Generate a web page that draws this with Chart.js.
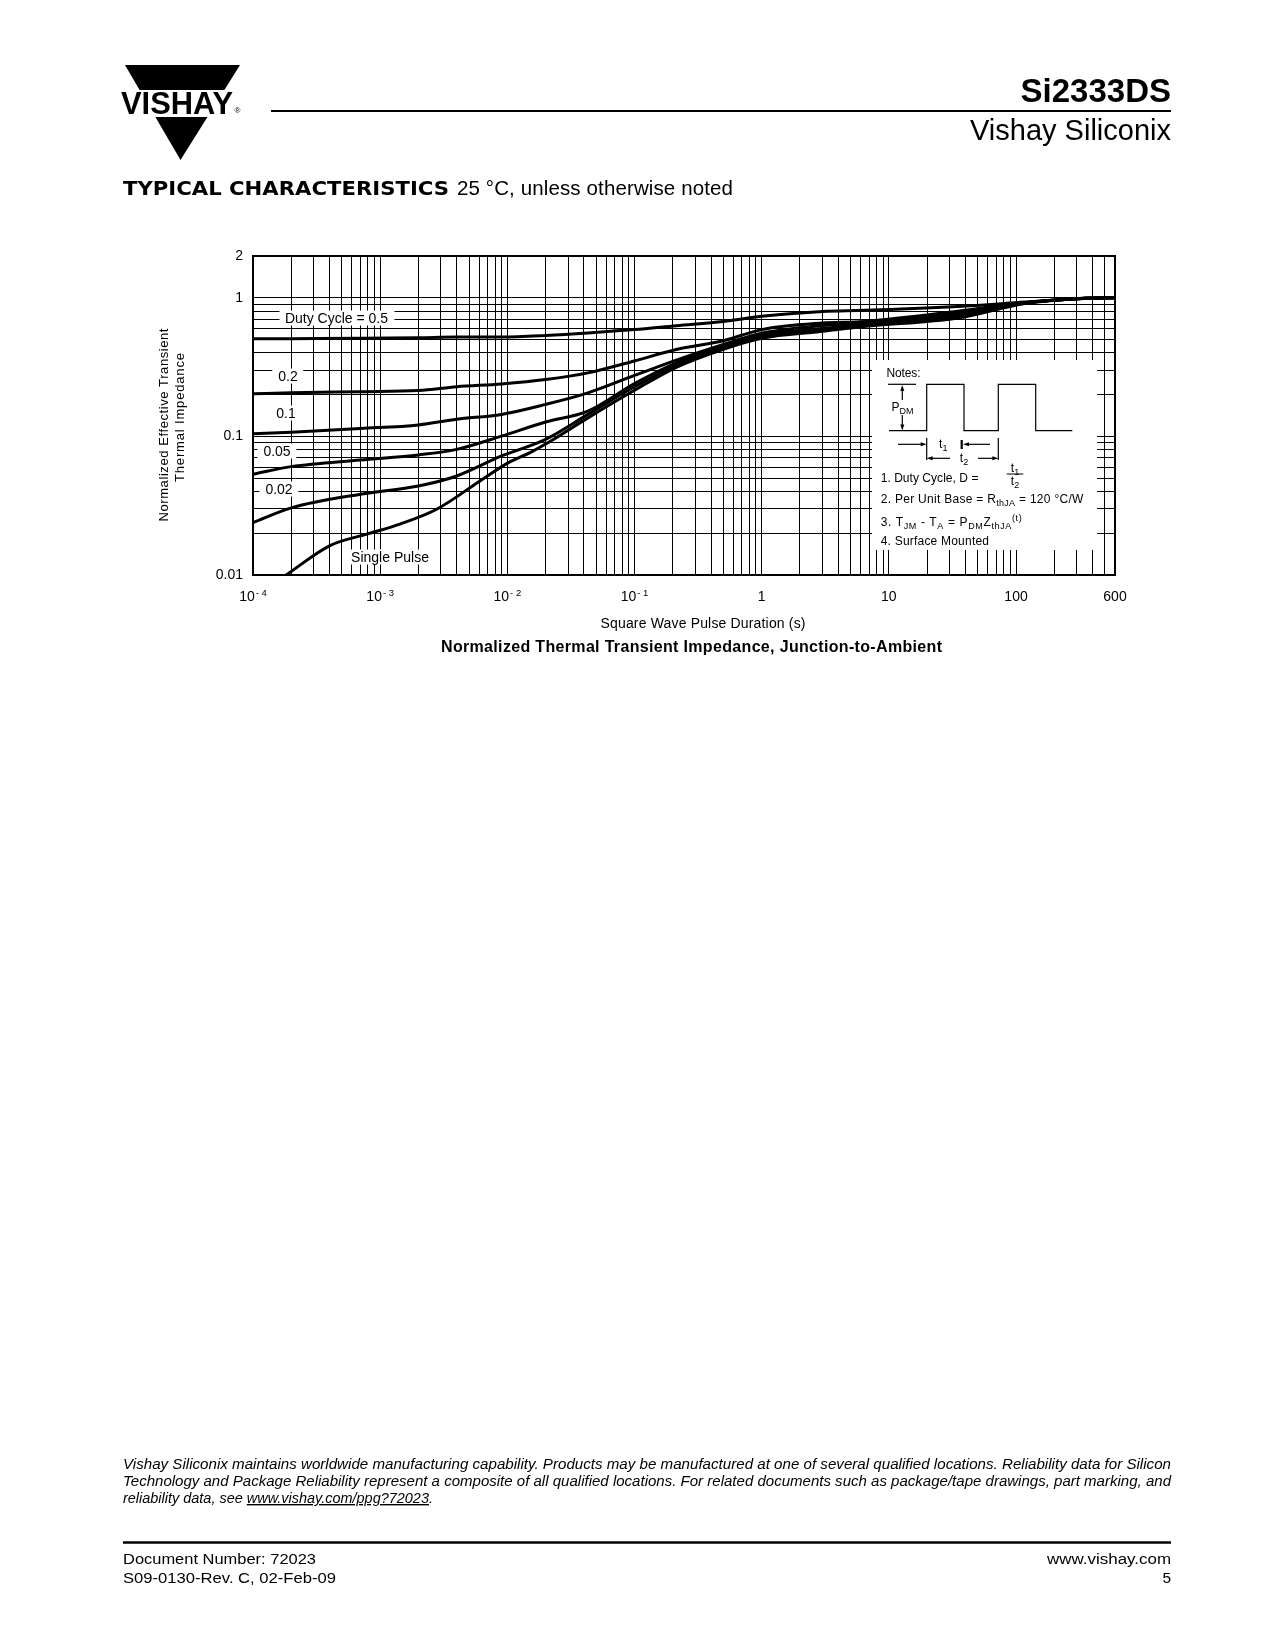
<!DOCTYPE html>
<html>
<head>
<meta charset="utf-8">
<title>Si2333DS - Normalized Thermal Transient Impedance</title>
<script src="https://cdn.jsdelivr.net/npm/chart.js@4.4.1/dist/chart.umd.min.js"></script>
<style>
  html, body { margin: 0; padding: 0; background: #fff; overflow: hidden; }
  body { width: 1275px; height: 1650px; position: relative; color: #000;
         font-family: "Liberation Sans", Arial, Helvetica, sans-serif; }
  #zthChart { position: absolute; left: 0; top: 0; }
  #page { position: absolute; left: 0; top: 0; }
  .curve-label { position: absolute; background: #fff; font-size: 14px; line-height: 13px;
                 padding: 1px 6px; transform: translate(-50%, -50%); white-space: nowrap; }
  #notes { position: absolute; left: 872px; top: 360px; width: 225px; height: 190px; background: #fff; }
  svg text { font-family: "Liberation Sans", Arial, Helvetica, sans-serif; fill: #000; }
</style>
</head>
<body>

<canvas id="zthChart" width="1275" height="700"></canvas>

<svg id="page" width="1275" height="1650" viewBox="0 0 1275 1650">
  <!-- logo -->
  <polygon points="125,65 240,65 180.5,160" fill="#000"/>
  <rect x="110" y="90" width="140" height="27" fill="#fff"/>
  <text x="121" y="113.5" font-size="31" font-weight="bold" textLength="112" lengthAdjust="spacingAndGlyphs">VISHAY</text>
  <text x="234.5" y="113" font-size="8">®</text>
  <line x1="271" y1="111" x2="1171" y2="111" stroke="#000" stroke-width="2"/>
  <text x="1171" y="102" font-size="33" font-weight="bold" text-anchor="end">Si2333DS</text>
  <text x="1171" y="139.5" font-size="29" text-anchor="end">Vishay Siliconix</text>
  <text x="123" y="195" font-size="20" font-weight="bold" style="font-family:'DejaVu Sans',sans-serif" textLength="326" lengthAdjust="spacingAndGlyphs">TYPICAL CHARACTERISTICS</text>
  <text x="457" y="195" font-size="20.5" textLength="276">25 °C, unless otherwise noted</text>

  <!-- axis titles -->
  <text transform="translate(167.5,425) rotate(-90)" font-size="13" text-anchor="middle" textLength="193">Normalized Effective Transient</text>
  <text transform="translate(184,417.5) rotate(-90)" font-size="13" text-anchor="middle" textLength="129">Thermal Impedance</text>
  <text x="703" y="628" font-size="14" text-anchor="middle" textLength="205">Square Wave Pulse Duration (s)</text>
  <text x="691.5" y="652" font-size="16" font-weight="bold" text-anchor="middle" textLength="501">Normalized Thermal Transient Impedance, Junction-to-Ambient</text>

  <!-- footer -->
  <text x="123" y="1469" font-size="13.8" font-style="italic" textLength="1048" lengthAdjust="spacingAndGlyphs">Vishay Siliconix maintains worldwide manufacturing capability. Products may be manufactured at one of several qualified locations. Reliability data for Silicon</text>
  <text x="123" y="1486" font-size="13.8" font-style="italic" textLength="1048" lengthAdjust="spacingAndGlyphs">Technology and Package Reliability represent a composite of all qualified locations. For related documents such as package/tape drawings, part marking, and</text>
  <text x="123" y="1503" font-size="13.8" font-style="italic" textLength="310" lengthAdjust="spacingAndGlyphs">reliability data, see <tspan text-decoration="underline">www.vishay.com/ppg?72023</tspan>.</text>
  <line x1="123" y1="1542.5" x2="1171" y2="1542.5" stroke="#000" stroke-width="2.5"/>
  <text x="123" y="1564" font-size="15.5" textLength="193" lengthAdjust="spacingAndGlyphs">Document Number: 72023</text>
  <text x="123" y="1583" font-size="15.5" textLength="213" lengthAdjust="spacingAndGlyphs">S09-0130-Rev. C, 02-Feb-09</text>
  <text x="1171" y="1564" font-size="15.5" text-anchor="end" textLength="124" lengthAdjust="spacingAndGlyphs">www.vishay.com</text>
  <text x="1171" y="1583" font-size="15.5" text-anchor="end">5</text>
</svg>

<!-- curve labels -->
<div class="curve-label" style="left:336.5px; top:317.5px;">Duty Cycle = 0.5</div>
<div class="curve-label" style="left:288px; top:376px;">0.2</div>
<div class="curve-label" style="left:286px; top:413px;">0.1</div>
<div class="curve-label" style="left:277px; top:451px;">0.05</div>
<div class="curve-label" style="left:279px; top:489px;">0.02</div>
<div class="curve-label" style="left:390px; top:557px;">Single Pulse</div>

<!-- notes box -->
<div id="notes">
  <svg width="225" height="190" viewBox="0 0 225 190">
    <text x="14.5" y="17.3" font-size="12" textLength="34">Notes:</text>
    <polyline points="17,70.7 54.7,70.7 54.7,24.3 92,24.3 92,70.7 126.3,70.7 126.3,24.3 163.7,24.3 163.7,70.7 200.3,70.7"
              fill="none" stroke="#000" stroke-width="1.2"/>
    <line x1="16" y1="24.3" x2="44" y2="24.3" stroke="#000" stroke-width="1.2"/>
    <line x1="30.3" y1="40" x2="30.3" y2="29" stroke="#000" stroke-width="1.2"/>
    <polygon points="30.3,25 28.3,31 32.3,31" fill="#000"/>
    <line x1="30.3" y1="55" x2="30.3" y2="66" stroke="#000" stroke-width="1.2"/>
    <polygon points="30.3,70.5 28.3,64.5 32.3,64.5" fill="#000"/>
    <text x="19.5" y="50.7" font-size="12">P<tspan font-size="9" dy="3">DM</tspan></text>

    <line x1="54.7" y1="78" x2="54.7" y2="100" stroke="#000" stroke-width="1.2"/>
    <line x1="126.3" y1="78" x2="126.3" y2="100" stroke="#000" stroke-width="1.2"/>
    <line x1="26" y1="84.3" x2="50" y2="84.3" stroke="#000" stroke-width="1.2"/>
    <polygon points="54.7,84.3 48.7,82.3 48.7,86.3" fill="#000"/>
    <text x="71.3" y="88.3" font-size="12" text-anchor="middle">t<tspan font-size="9" dy="3">1</tspan></text>
    <line x1="89.7" y1="80" x2="89.7" y2="89" stroke="#000" stroke-width="2.2"/>
    <line x1="95" y1="84.3" x2="118" y2="84.3" stroke="#000" stroke-width="1.2"/>
    <polygon points="91,84.3 97,82.3 97,86.3" fill="#000"/>

    <polygon points="54.7,98.3 60.7,96.3 60.7,100.3" fill="#000"/>
    <line x1="60" y1="98.3" x2="78" y2="98.3" stroke="#000" stroke-width="1.2"/>
    <text x="92" y="101.7" font-size="12" text-anchor="middle">t<tspan font-size="9" dy="3">2</tspan></text>
    <line x1="106" y1="98.3" x2="121" y2="98.3" stroke="#000" stroke-width="1.2"/>
    <polygon points="126.3,98.3 120.3,96.3 120.3,100.3" fill="#000"/>

    <text x="8.7" y="121.7" font-size="12" textLength="97.7">1. Duty Cycle, D =</text>
    <text x="143" y="111.7" font-size="12" text-anchor="middle">t<tspan font-size="9" dy="3">1</tspan></text>
    <line x1="134.7" y1="114" x2="151.3" y2="114" stroke="#000" stroke-width="1"/>
    <text x="143" y="125" font-size="12" text-anchor="middle">t<tspan font-size="9" dy="3">2</tspan></text>
    <text x="8.7" y="143.3" font-size="12" textLength="202.7">2. Per Unit Base = R<tspan font-size="9" dy="3">thJA</tspan><tspan dy="-3"> = 120 °C/W</tspan></text>
    <text x="8.7" y="165.7" font-size="12" textLength="141">3. T<tspan font-size="9" dy="3">JM</tspan><tspan dy="-3"> - T</tspan><tspan font-size="9" dy="3">A</tspan><tspan dy="-3"> = P</tspan><tspan font-size="9" dy="3">DM</tspan><tspan dy="-3">Z</tspan><tspan font-size="9" dy="3">thJA</tspan><tspan font-size="9" dy="-8">(t)</tspan></text>
    <text x="8.7" y="185" font-size="12" textLength="108.3">4. Surface Mounted</text>
  </svg>
</div>

<script>
// Pulse durations (s) shared by the duty-cycle curves
const pulseTime = [1e-4, 2e-4, 7e-4, 2e-3, 4e-3, 9e-3, 0.02, 0.043, 0.1, 0.213, 0.5, 1, 3, 6.4, 35, 118, 350, 600];

// Normalized Zth for each duty cycle
const zthD50 = [0.505, 0.507, 0.51, 0.515, 0.52, 0.521, 0.535, 0.557, 0.589, 0.629, 0.675, 0.734, 0.797, 0.811, 0.866, 0.93, 0.99, 1.0];
const zthD20 = [0.203, 0.206, 0.21, 0.214, 0.228, 0.239, 0.257, 0.287, 0.35, 0.423, 0.49, 0.589, 0.657, 0.675, 0.80, 0.92, 0.99, 1.0];
const zthD10 = [0.1045, 0.107, 0.114, 0.121, 0.133, 0.144, 0.17, 0.206, 0.275, 0.355, 0.46, 0.555, 0.63, 0.66, 0.78, 0.92, 0.99, 1.0];
const zthD05 = [0.0533, 0.0605, 0.0676, 0.0735, 0.0806, 0.1005, 0.127, 0.152, 0.24, 0.339, 0.445, 0.54, 0.60, 0.645, 0.75, 0.915, 0.99, 1.0];
const zthD02 = [0.0239, 0.0305, 0.0383, 0.0439, 0.0518, 0.0722, 0.095, 0.144, 0.228, 0.324, 0.435, 0.525, 0.585, 0.63, 0.73, 0.915, 0.99, 1.0];

// Single pulse curve
const singleTime = [1.82e-4, 4.03e-4, 7.83e-4, 1.43e-3, 2.78e-3, 6.1e-3, 0.0102, 0.0151, 0.02, 0.043, 0.1, 0.213, 0.5, 1, 3, 6.4, 35, 118, 350, 600];
const zthSingle = [0.01, 0.0163, 0.0197, 0.0233, 0.0298, 0.0477, 0.0646, 0.0764, 0.088, 0.136, 0.215, 0.315, 0.425, 0.51, 0.572, 0.62, 0.714, 0.91, 0.99, 1.0];

// Axis ticks
const xMajor = [1e-4, 1e-3, 1e-2, 1e-1, 1, 10, 100, 600];
const xTickBase = ['10', '10', '10', '10', '1', '10', '100', '600'];
const xTickExp = ['- 4', '- 3', '- 2', '- 1', '', '', '', ''];
const yMajor = [0.01, 0.1, 1, 2];
const yTickLabels = ['0.01', '0.1', '1', '2'];

const FONT = '"Liberation Sans", Arial, Helvetica, sans-serif';

// 1..9 x 10^n grid positions between min and max
function logTicks(min, max) {
    const out = [];
    for (let e = Math.floor(Math.log10(min)); e <= Math.ceil(Math.log10(max)); e++) {
        for (let m = 1; m <= 9; m++) {
            const v = m * Math.pow(10, e);
            if (v >= min * 0.999 && v <= max * 1.001) out.push(v);
        }
    }
    if (!out.some(v => Math.abs(v - max) / max < 1e-6)) out.push(max);
    return out;
}

function toPoints(xs, ys) {
    return xs.map((x, i) => ({ x: x, y: ys[i] }));
}

function curve(label, xs, ys) {
    return {
        label: label,
        data: toPoints(xs, ys),
        borderColor: '#000',
        borderWidth: 3,
        pointRadius: 0,
        fill: false,
        cubicInterpolationMode: 'monotone',
        borderCapStyle: 'round'
    };
}

// frame round the plot and x tick labels with raised exponents
const framePlugin = {
    id: 'frame',
    beforeDatasetsDraw(chart) {
        const { ctx, chartArea: a } = chart;
        ctx.save();
        ctx.strokeStyle = '#000';
        ctx.lineWidth = 2;
        ctx.strokeRect(a.left, a.top, a.right - a.left, a.bottom - a.top);
        ctx.restore();
    },
    afterDraw(chart) {
        const { ctx, chartArea: a } = chart;
        const xs = chart.scales.x;
        ctx.save();
        ctx.fillStyle = '#000';
        ctx.textAlign = 'left';
        ctx.textBaseline = 'alphabetic';
        xMajor.forEach((v, i) => {
            const px = xs.getPixelForValue(v);
            ctx.font = '14px ' + FONT;
            const wb = ctx.measureText(xTickBase[i]).width;
            ctx.font = '9.5px ' + FONT;
            const we = xTickExp[i] ? ctx.measureText(xTickExp[i]).width + 1 : 0;
            const x0 = px - (wb + we) / 2;
            ctx.font = '14px ' + FONT;
            ctx.fillText(xTickBase[i], x0, a.bottom + 25.5);
            if (xTickExp[i]) {
                ctx.font = '9.5px ' + FONT;
                ctx.fillText(xTickExp[i], x0 + wb + 1, a.bottom + 20.5);
            }
        });
        ctx.restore();
    }
};

const ctx = document.getElementById('zthChart').getContext('2d');
new Chart(ctx, {
    type: 'line',
    data: {
        datasets: [
            curve('Duty Cycle = 0.5', pulseTime, zthD50),
            curve('0.2', pulseTime, zthD20),
            curve('0.1', pulseTime, zthD10),
            curve('0.05', pulseTime, zthD05),
            curve('0.02', pulseTime, zthD02),
            curve('Single Pulse', singleTime, zthSingle)
        ]
    },
    options: {
        responsive: false,
        animation: false,
        layout: { padding: { left: 0, top: 256, right: 160, bottom: 0 } },
        plugins: {
            legend: { display: false },
            tooltip: { enabled: false }
        },
        scales: {
            x: {
                type: 'logarithmic',
                min: 1e-4,
                max: 600,
                afterBuildTicks: s => { s.ticks = logTicks(1e-4, 600).map(v => ({ value: v })); },
                afterFit: s => { s.height = 125; },
                grid: { color: '#000', lineWidth: 1, drawTicks: false },
                border: { display: false },
                ticks: { display: false }
            },
            y: {
                type: 'logarithmic',
                min: 0.01,
                max: 2,
                afterBuildTicks: s => { s.ticks = logTicks(0.01, 2).map(v => ({ value: v })); },
                afterFit: s => { s.width = 253; },
                grid: { color: '#000', lineWidth: 1, drawTicks: false },
                border: { display: false },
                ticks: {
                    autoSkip: false,
                    padding: 10,
                    color: '#000',
                    font: { family: FONT, size: 14 },
                    callback: function(value) {
                        const i = yMajor.findIndex(m => Math.abs(m - value) / m < 1e-6);
                        return i >= 0 ? yTickLabels[i] : '';
                    }
                }
            }
        }
    },
    plugins: [framePlugin]
});
</script>
</body>
</html>
